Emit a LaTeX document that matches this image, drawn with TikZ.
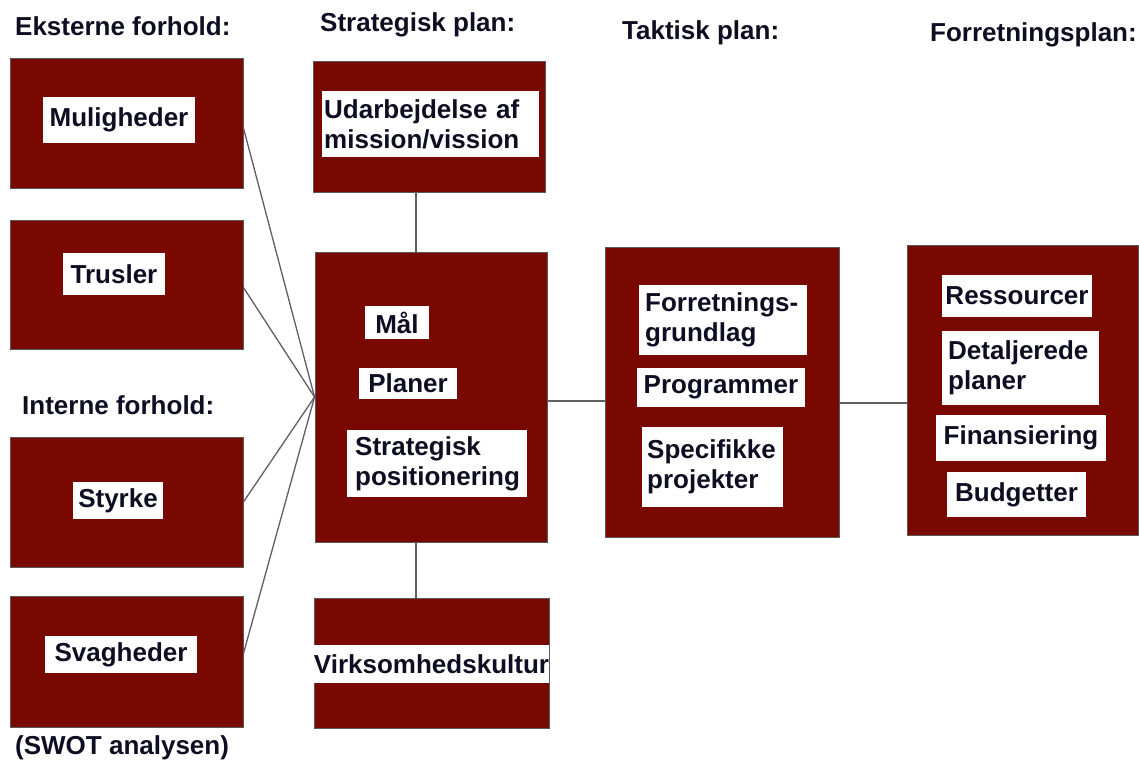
\documentclass[tikz,border=0pt]{standalone}
\usepackage{fontspec}
\setmainfont{Liberation Sans}
\definecolor{boxred}{RGB}{120,8,0}
\definecolor{ink}{RGB}{14,14,34}
\definecolor{wire}{RGB}{95,95,95}
\begin{document}
\begin{tikzpicture}[x=1pt,y=-1pt,
  every node/.style={font=\bfseries\fontsize{26}{30}\selectfont, text=ink},
  outbox/.style={draw=black!65, line width=0.9pt, fill=boxred, inner sep=0pt},
  lbl/.style={fill=white, inner sep=0pt},
  multi/.style={lbl, align=left, anchor=west, inner ysep=0pt},
  head/.style={anchor=west, inner sep=0pt},
  wireline/.style={draw=wire, line width=1.3pt}]
\useasboundingbox (0,0) rectangle (1139,765);

% column headings
\node[head] (hext) at (15,26) {Eksterne forhold:};
\node[head] (hstr) at (320,25) {Strategisk plan:};
\node[head] (htak) at (622,33) {Taktisk plan:};
\node[head] (hfor) at (930,35) {Forretningsplan:};
\node[head] (hint) at (22,405) {Interne forhold:};
\node[head] (hswot) at (15,748) {(SWOT analysen)};

% SWOT boxes
\node[outbox, minimum width=233pt, minimum height=130pt] (mul) at (126.5,123) {};
\node[outbox, minimum width=233pt, minimum height=129pt] (tru) at (126.5,284.5) {};
\node[outbox, minimum width=233pt, minimum height=130pt] (sty) at (126.5,502) {};
\node[outbox, minimum width=233pt, minimum height=131pt] (sva) at (126.5,661.5) {};
\node[lbl, minimum width=152pt, minimum height=46pt] (mult) at (119,120) {Muligheder};
\node[lbl, minimum width=102pt, minimum height=42pt] (trut) at (114,274) {Trusler};
\node[lbl, minimum width=90pt, minimum height=37pt] (styt) at (118,500.5) {Styrke};
\node[lbl, minimum width=152pt, minimum height=37pt] (svat) at (121,654.5) {Svagheder};

% strategic plan column
\node[outbox, minimum width=232pt, minimum height=131pt] (udv) at (429,126.5) {};
\node[outbox, minimum width=232pt, minimum height=290pt] (cen) at (431,397) {};
\node[outbox, minimum width=235pt, minimum height=130pt] (vir) at (431.5,663) {};
\node[multi, text width=213pt, inner xsep=2pt, minimum height=66pt] (udvt) at (322,124) {Udarbejdelse af\\mission/vission};
\node[lbl, minimum width=64pt, minimum height=33pt] (malt) at (397,322.5) {Mål};
\node[lbl, minimum width=98pt, minimum height=31pt] (plat) at (408,383.5) {Planer};
\node[multi, text width=164pt, inner xsep=8pt, minimum height=67pt] (post) at (347,463.5) {Strategisk\\positionering};
\node[lbl, minimum width=235pt, minimum height=38pt] (virt) at (431.5,664) {Virksomhedskultur};

% tactical plan
\node[outbox, minimum width=234pt, minimum height=290pt] (tak) at (722,392) {};
\node[multi, text width=156pt, inner xsep=6pt, minimum height=70pt] (fgt) at (639,320) {Forretnings-\\grundlag};
\node[lbl, minimum width=168pt, minimum height=39pt] (prgt) at (721,387.5) {Programmer};
\node[multi, text width=131pt, inner xsep=5pt, minimum height=80pt] (spet) at (642,467) {Specifikke\\projekter};

% business plan
\node[outbox, minimum width=231pt, minimum height=290pt] (fpl) at (1022.5,390) {};
\node[lbl, minimum width=150pt, minimum height=42pt] (rest) at (1017,296) {Ressourcer};
\node[multi, text width=145pt, inner xsep=6pt, minimum height=74pt] (dett) at (942,368) {Detaljerede\\planer};
\node[lbl, minimum width=170pt, minimum height=46pt] (fint) at (1021,438) {Finansiering};
\node[lbl, minimum width=139pt, minimum height=45pt] (budt) at (1016.5,494.5) {Budgetter};

% connectors
\draw[wireline] ([yshift=-5pt]mul.east) -- (cen.west);
\draw[wireline] ([yshift=-3pt]tru.east) -- (cen.west);
\draw[wireline] (sty.east) -- (cen.west);
\draw[wireline] ([yshift=8pt]sva.east) -- (cen.west);
\draw[wireline] ([xshift=-13pt]udv.south) -- ([xshift=-15pt]cen.north);
\draw[wireline] ([xshift=-15pt]cen.south) -- ([xshift=-15.5pt]vir.north);
\coordinate (j0) at ([yshift=-4pt]cen.east);
\draw[wireline] (j0) -- (j0 -| tak.west);
\coordinate (j1) at ([yshift=-11pt]tak.east);
\draw[wireline] (j1) -- (j1 -| fpl.west);
\end{tikzpicture}
\end{document}
